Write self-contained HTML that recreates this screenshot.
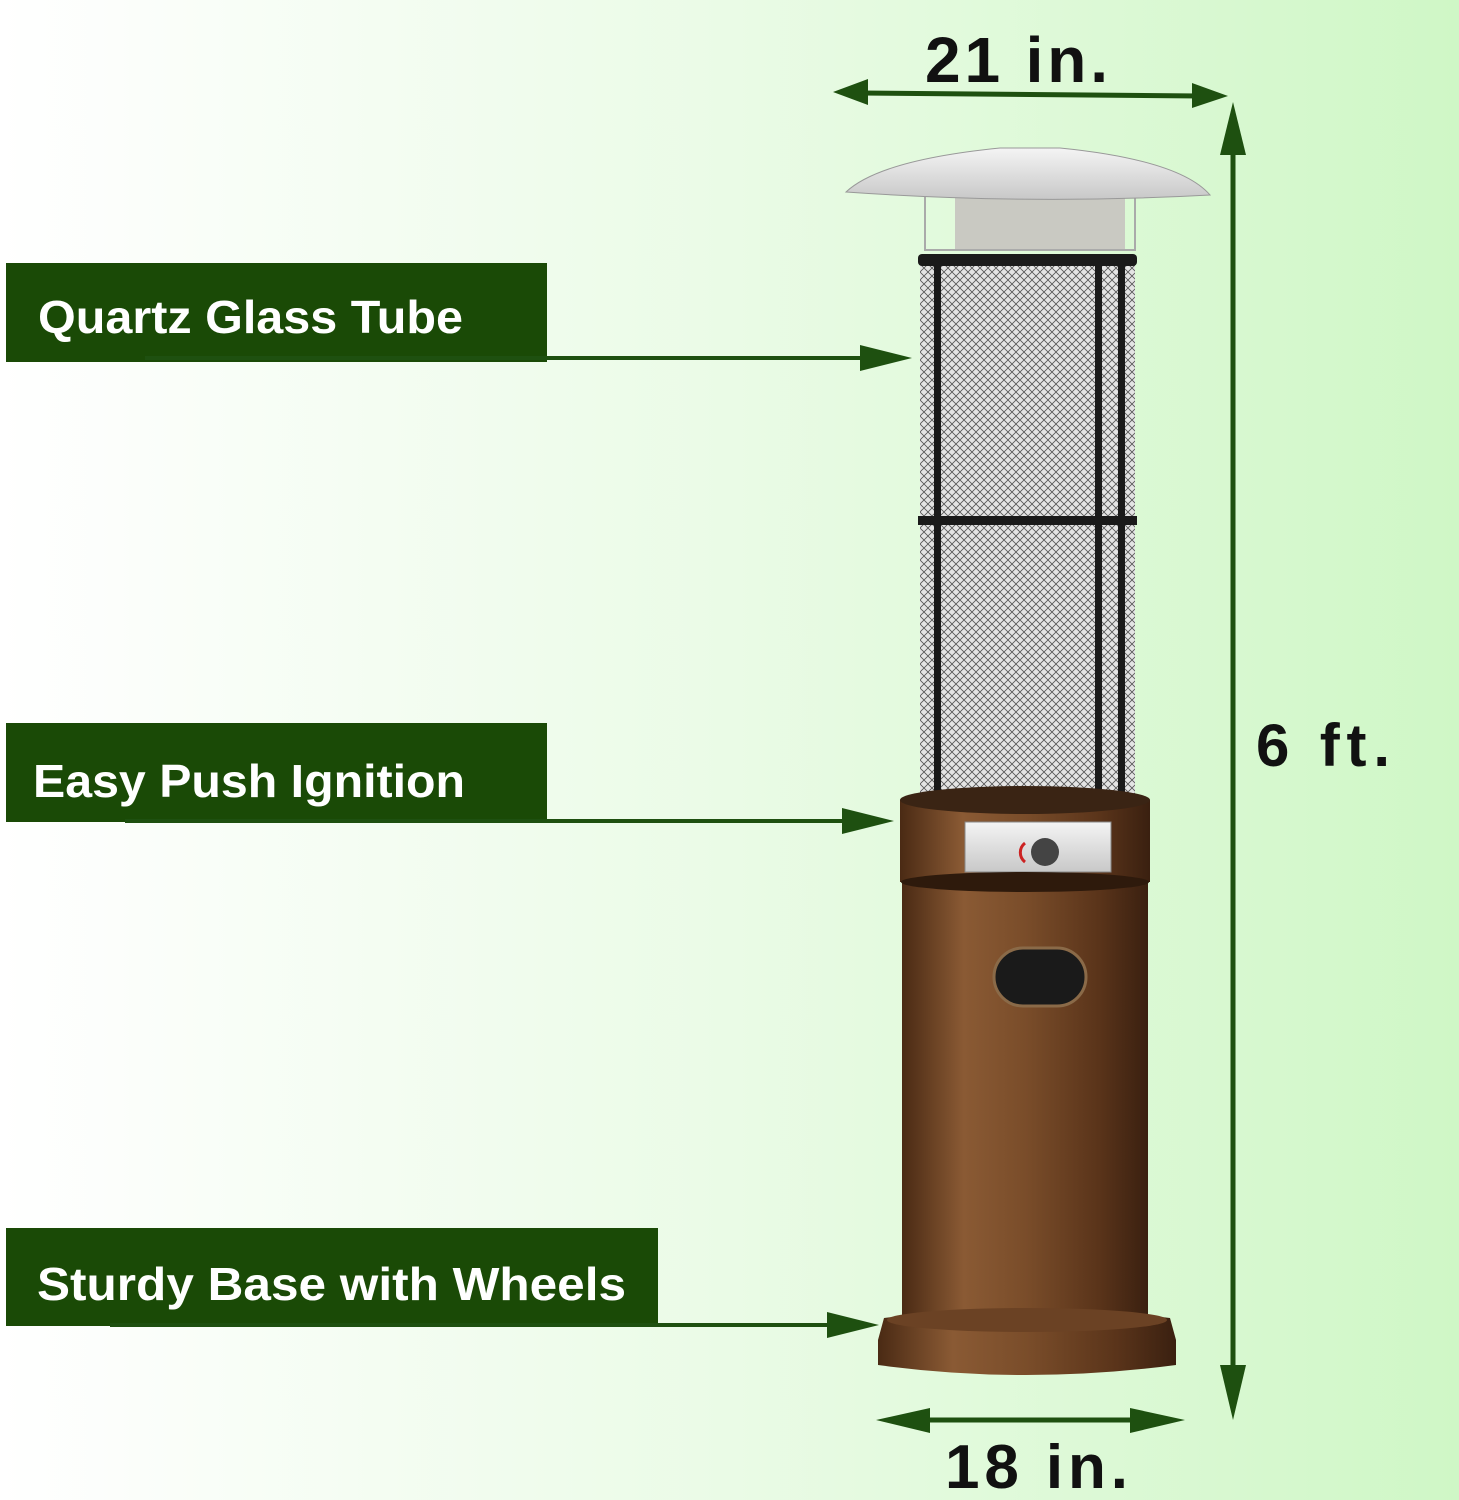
<!DOCTYPE html>
<html><head><meta charset="utf-8"><style>
html,body{margin:0;padding:0;width:1459px;height:1500px;overflow:hidden}
</style></head><body>
<svg width="1459" height="1500" viewBox="0 0 1459 1500" xmlns="http://www.w3.org/2000/svg" font-family="Liberation Sans, sans-serif">
<defs>
<linearGradient id="bg" x1="0" y1="0" x2="1" y2="0">
<stop offset="0" stop-color="#ffffff"/><stop offset="0.5" stop-color="#eafbe6"/><stop offset="1" stop-color="#cff7c6"/></linearGradient>
<linearGradient id="brown" x1="0" y1="0" x2="1" y2="0">
<stop offset="0" stop-color="#4a2a14"/><stop offset="0.25" stop-color="#8a5a34"/><stop offset="0.5" stop-color="#7a4d2a"/><stop offset="0.8" stop-color="#5a341a"/><stop offset="1" stop-color="#3a2010"/></linearGradient>
<linearGradient id="silver" x1="0" y1="0" x2="0" y2="1">
<stop offset="0" stop-color="#f4f4f4"/><stop offset="1" stop-color="#c8c8c8"/></linearGradient>
<pattern id="mesh" width="8" height="8" patternUnits="userSpaceOnUse">
<rect width="8" height="8" fill="#e4e4e4"/><path d="M0 0L8 8M8 0L0 8" stroke="#555" stroke-width="0.8"/></pattern>
</defs>
<rect width="1459" height="1500" fill="url(#bg)"/>

<rect x="955" y="185" width="170" height="65" fill="#c9c9c2"/>
<rect x="925" y="185" width="210" height="65" fill="none" stroke="#aaa" stroke-width="2"/>
<path d="M846 192 Q880 160 1000 148 L1060 148 Q1180 160 1210 195 Q1030 205 846 192Z" fill="url(#silver)" stroke="#999"/>
<rect x="920" y="258" width="215" height="552" fill="url(#mesh)"/>
<rect x="918" y="254" width="219" height="12" rx="4" fill="#1a1a1a"/>
<rect x="918" y="516" width="219" height="9" fill="#1a1a1a"/>
<rect x="934" y="258" width="7" height="550" fill="#1a1a1a"/>
<rect x="1095" y="258" width="7" height="550" fill="#1a1a1a"/>
<rect x="1118" y="258" width="7" height="550" fill="#1a1a1a"/>
<rect x="900" y="800" width="250" height="82" fill="url(#brown)"/>
<ellipse cx="1025" cy="800" rx="125" ry="14" fill="#3a2414"/>
<rect x="965" y="822" width="146" height="50" fill="url(#silver)" stroke="#888"/>
<circle cx="1045" cy="852" r="14" fill="#444"/>
<path d="M1025 843 A12 12 0 0 0 1025 862" stroke="#c22" stroke-width="3" fill="none"/>
<rect x="902" y="880" width="246" height="438" fill="url(#brown)"/>
<ellipse cx="1025" cy="882" rx="124" ry="10" fill="#2e1a0c"/>
<rect x="994" y="948" width="92" height="58" rx="29" fill="#1a1a1a" stroke="#8a6a48" stroke-width="3"/>
<path d="M878 1340 L884 1318 Q1025 1300 1170 1318 L1176 1340 L1176 1365 Q1025 1385 878 1365Z" fill="url(#brown)"/>
<ellipse cx="1027" cy="1320" rx="140" ry="12" fill="#6b4224"/>

<g fill="#1e5010" stroke="#1e5010">
<line x1="860" y1="93" x2="1200" y2="96" stroke-width="5"/>
<polygon points="833,92 868,79 868,105" stroke="none"/>
<polygon points="1228,96 1192,83 1192,108" stroke="none"/>
<line x1="1233" y1="130" x2="1233" y2="1395" stroke-width="5"/>
<polygon points="1233,102 1220,155 1246,155" stroke="none"/>
<polygon points="1233,1420 1220,1365 1246,1365" stroke="none"/>
<line x1="905" y1="1420" x2="1160" y2="1420" stroke-width="5"/>
<polygon points="876,1420 930,1408 930,1433" stroke="none"/>
<polygon points="1185,1420 1130,1408 1130,1433" stroke="none"/>
</g>
<g font-weight="bold" fill="#111">
<text x="925" y="82" font-size="64" textLength="183" lengthAdjust="spacing">21 in.</text>
<text x="945" y="1488" font-size="62" textLength="183" lengthAdjust="spacing">18 in.</text>
<text x="1256" y="766" font-size="60" textLength="134" lengthAdjust="spacing">6 ft.</text>
</g>

<g fill="#1a4a06">
<rect x="6" y="263" width="541" height="99"/>
<rect x="6" y="723" width="541" height="99"/>
<rect x="6" y="1228" width="652" height="98"/>
</g>
<g fill="#fff" font-weight="bold" font-size="46">
<text x="38" y="333" textLength="425" lengthAdjust="spacingAndGlyphs">Quartz Glass Tube</text>
<text x="33" y="797" textLength="432" lengthAdjust="spacingAndGlyphs">Easy Push Ignition</text>
<text x="37" y="1300" textLength="589" lengthAdjust="spacingAndGlyphs">Sturdy Base with Wheels</text>
</g>
<g fill="#1e5010" stroke="#1e5010">
<line x1="145" y1="358" x2="870" y2="358" stroke-width="4"/>
<polygon points="912,358 860,345 860,371" stroke="none"/>
<line x1="125" y1="821" x2="850" y2="821" stroke-width="4"/>
<polygon points="894,821 842,808 842,834" stroke="none"/>
<line x1="110" y1="1325" x2="835" y2="1325" stroke-width="4"/>
<polygon points="879,1325 827,1312 827,1338" stroke="none"/>
</g>
</svg>
</body></html>
